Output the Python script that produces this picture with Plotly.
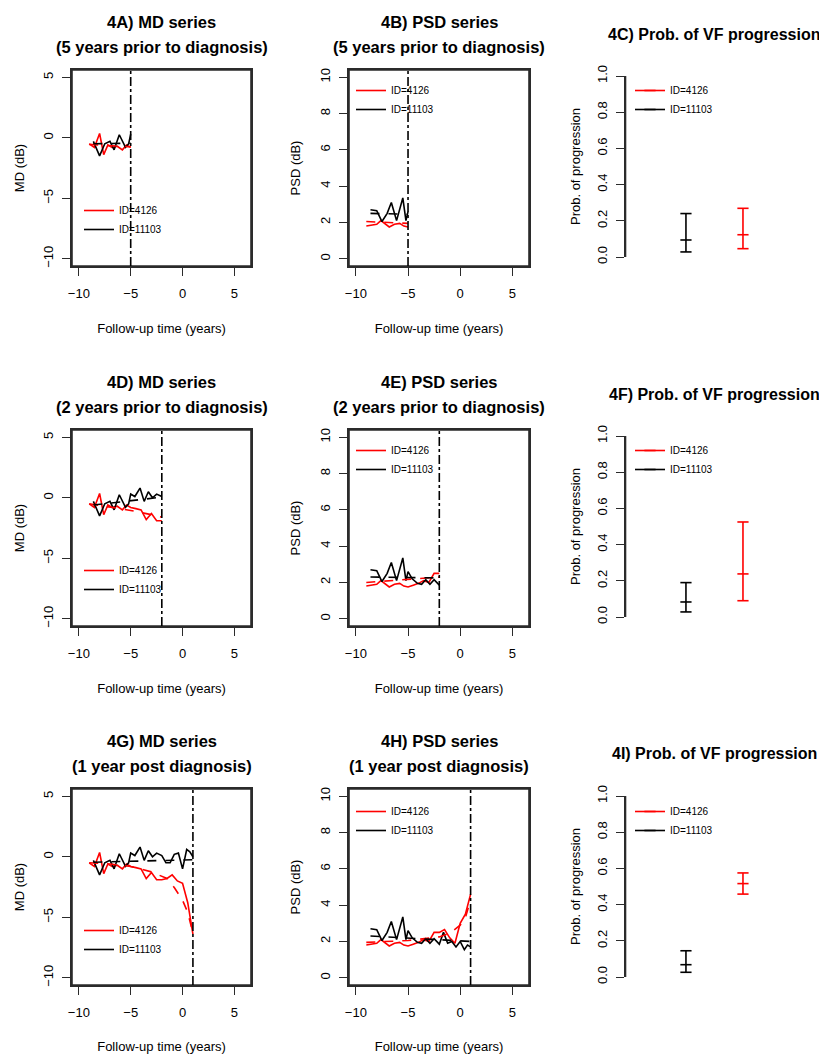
import plotly.graph_objects as go

# page is 827x1054 with an 8px body margin; the figure fills the rest
OFF = 8
W, H = 827 - OFF, 1054 - OFF
FONT = "Liberation Sans, Arial, Helvetica, sans-serif"
RED, BLACK = "#FF0000", "#000000"

# ---------------- data ----------------
id_names = ["ID=4126", "ID=11103"]
cutoffs = [-5, -2, 1]
row_subtitles = ["(5 years prior to diagnosis)", "(2 years prior to diagnosis)", "(1 year post diagnosis)"]
panel_letters = [["4A", "4B", "4C"], ["4D", "4E", "4F"], ["4G", "4H", "4I"]]

# ID=4126 (red) observed series
t_red = [-9.0, -8.5, -8.0, -7.6, -7.2, -6.8, -6.3, -5.8, -5.4, -5.0, -4.5,
         -4.0, -3.5, -3.0, -2.5, -2.0, -1.5, -1.0, -0.5, 0.0, 0.5, 1.0]
md_red = [-0.5, -0.8, 0.35, -1.4, -0.6, -0.8, -0.7, -1.0, -0.6, -0.8, -0.9,
          -1.0, -1.8, -1.3, -1.9, -1.9, -1.8, -1.5, -2.0, -2.2, -3.8, -6.4]
psd_red = [1.8, 1.85, 1.9, 2.1, 1.9, 1.75, 1.9, 1.95, 1.8, 1.75, 1.85,
           1.95, 2.1, 2.0, 2.5, 2.5, 2.65, 2.2, 1.9, 3.0, 3.5, 4.6]

# ID=11103 (black) observed series
t_blk = [-8.6, -8.0, -7.5, -7.0, -6.6, -6.1, -5.5, -5.2, -5.0, -4.6, -4.1, -3.7,
         -3.3, -2.9, -2.5, -2.0, -1.6, -1.2, -0.8, -0.4, 0.0, 0.4, 0.7, 1.0]
md_blk = [-0.3, -1.5, -0.5, -0.3, -1.0, 0.25, -0.8, -0.5, 0.3, 0.1, 0.8, -0.3,
          0.5, 0.0, 0.3, 0.1, -0.5, -0.5, 0.2, 0.3, -1.0, 0.6, 0.4, 0.0]
psd_blk = [2.7, 2.65, 2.05, 2.5, 3.1, 2.1, 3.35, 2.1, 2.6, 2.2, 1.95, 1.9,
           2.15, 1.9, 2.15, 1.85, 2.5, 1.9, 2.0, 1.7, 2.0, 1.55, 1.8, 1.7]

# fitted (dashed) curves, one per row
md_fit_red_t = [[-9.0, -5.0], [-9.0, -7.0, -5.0, -3.0, -2.0],
                [-9.0, -7.0, -5.0, -3.0, -1.5, -0.75, 0.0, 0.5, 1.0]]
md_fit_red = [[-0.55, -0.75], [-0.5, -0.75, -1.05, -1.4, -1.6],
              [-0.5, -0.6, -0.8, -1.25, -1.8, -2.6, -3.6, -4.6, -6.3]]
md_fit_blk_t = [[-8.6, -5.0], [-8.6, -2.0], [-8.6, 1.0]]
md_fit_blk = [[-0.5, -0.45], [-0.6, 0.05], [-0.45, -0.25]]
psd_fit_red_t = [[-9.0, -5.0], [-9.0, -2.0], [-9.0, -5.0, -2.0, -1.0, 0.0, 0.5, 1.0]]
psd_fit_red = [[2.05, 1.95], [2.0, 2.3], [1.95, 2.05, 2.25, 2.45, 2.9, 3.3, 4.3]]
psd_fit_blk_t = [[-8.6, -5.0], [-8.6, -2.0], [-8.6, 1.0]]
psd_fit_blk = [[2.5, 2.45], [2.3, 2.25], [2.3, 2.0]]

# probability of progression (estimate with interval), per row
prob_pos = [2, 1]            # x position: ID=4126, ID=11103
prob_mid_red = [0.123, 0.238, 0.516]
prob_lo_red = [0.046, 0.090, 0.458]
prob_hi_red = [0.269, 0.525, 0.575]
prob_mid_blk = [0.094, 0.083, 0.068]
prob_lo_blk = [0.028, 0.028, 0.026]
prob_hi_blk = [0.240, 0.190, 0.145]

md_ticks = [-10, -5, 0, 5]
psd_ticks = [0, 2, 4, 6, 8, 10]
x_ticks = [-10, -5, 0, 5]
prob_ticks = [0.0, 0.2, 0.4, 0.6, 0.8, 1.0]

# ---------------- layout geometry (page pixels) ----------------
col_px = [(72, 251), (349, 529), (625.5, 800)]
row_box = [(70, 266), (430, 626), (789, 985)]
row_prob = [(76, 257), (436, 617), (796, 977)]
ytitle_standoff = [13, 14, 11]
FRAME = "#2b2b2b"
FRAME_W = 1.6


def px_x(p):
    return (p - OFF) / W


def px_y(p):
    return 1 - (p - OFF) / H


def xdom(a, b):
    return [px_x(a), px_x(b)]


def ydom(top, bottom):
    return [px_y(bottom), px_y(top)]


def ax_ids(k):
    s = "" if k == 1 else str(k)
    return "x" + s, "y" + s, "xaxis" + s, "yaxis" + s


fig = go.Figure()
layout = dict(
    width=W, height=H, margin=dict(l=0, r=0, t=0, b=0),
    paper_bgcolor="white", plot_bgcolor="white",
    font=dict(family=FONT, size=13, color="black"),
    showlegend=True,
)
annotations = []
shapes = []

tickfont = dict(family=FONT, size=13, color="black")
titlefont = dict(family=FONT, size=13, color="black")


def series_axes(k, col, r, yrange, yticks, ytitle):
    xr_, yr_, xa, ya = ax_ids(k)
    layout[xa] = dict(
        domain=xdom(*col_px[col]), anchor=yr_, range=[-10.66, 6.6],
        tickvals=x_ticks, ticks="outside", ticklen=8, tickwidth=1.4, tickcolor=FRAME,
        showline=True, mirror=True, linecolor=FRAME, linewidth=FRAME_W,
        showgrid=False, zeroline=False, tickfont=tickfont, ticklabelstandoff=7,
        title=dict(text="Follow-up time (years)", font=titlefont, standoff=23),
        automargin=False,
    )
    layout[ya] = dict(
        domain=ydom(*row_box[r]), anchor=xr_, range=yrange,
        tickvals=yticks, ticks="outside", ticklen=8, tickwidth=1.4, tickcolor=FRAME,
        showline=True, mirror=True, linecolor=FRAME, linewidth=FRAME_W,
        showgrid=False, zeroline=False, tickfont=tickfont, tickangle=-90,
        ticklabelstandoff=4,
        title=dict(text=ytitle, font=titlefont, standoff=ytitle_standoff[col]),
        automargin=False,
    )
    # plot frame (box around the plotting region)
    shapes.append(dict(type="rect", xref=f"{xr_} domain", yref=f"{yr_} domain",
                       x0=0, x1=1, y0=0, y1=1, layer="above",
                       line=dict(color=FRAME, width=FRAME_W), fillcolor="rgba(0,0,0,0)"))


def add_legend(k, left_px, top_px):
    key = "legend" if k == 1 else f"legend{k}"
    layout[key] = dict(
        x=px_x(left_px), y=px_y(top_px), xanchor="left", yanchor="top",
        xref="paper", yref="paper", bgcolor="rgba(0,0,0,0)", borderwidth=0,
        font=dict(family=FONT, size=10, color="black"), itemwidth=30,
        traceorder="normal", tracegroupgap=0,
    )
    return key


def title_ann(text, cx, ypx, size=16.5):
    annotations.append(dict(text=f"<b>{text}</b>", x=px_x(cx), y=px_y(ypx),
                            xref="paper", yref="paper", showarrow=False, xanchor="center",
                            yanchor="middle", font=dict(family=FONT, size=size, color="black")))


for r in range(3):
    c = cutoffs[r]
    top, bottom = row_box[r]
    xr = [t for t in t_red if t <= c + 1e-9]
    xb = [t for t in t_blk if t <= c + 1e-9]

    panels = [
        (0, [-10.6, 5.6], md_ticks, "MD (dB)", md_red, md_blk, md_fit_red_t, md_fit_red,
         md_fit_blk_t, md_fit_blk, 79, [196, 556, 916][r], "MD series"),
        (1, [-0.4, 10.4], psd_ticks, "PSD (dB)", psd_red, psd_blk, psd_fit_red_t, psd_fit_red,
         psd_fit_blk_t, psd_fit_blk, 351, [76, 436, 797][r], "PSD series"),
    ]
    for (col, yrange, yticks, ytitle, yred, yblk, frt, fr, fbt, fb, lgx, lgy, name) in panels:
        k = 3 * r + col + 1
        xs, ys, _, _ = ax_ids(k)
        series_axes(k, col, r, yrange, yticks, ytitle)
        lg = add_legend(k, lgx, lgy)
        fig.add_trace(go.Scatter(x=xr, y=yred[:len(xr)], mode="lines", name=id_names[0],
                                 line=dict(color=RED, width=1.6), xaxis=xs, yaxis=ys, legend=lg))
        fig.add_trace(go.Scatter(x=xb, y=yblk[:len(xb)], mode="lines", name=id_names[1],
                                 line=dict(color=BLACK, width=1.6), xaxis=xs, yaxis=ys, legend=lg))
        fig.add_trace(go.Scatter(x=frt[r], y=fr[r], mode="lines", showlegend=False,
                                 line=dict(color=RED, width=1.6, dash="dash"), xaxis=xs, yaxis=ys))
        fig.add_trace(go.Scatter(x=fbt[r], y=fb[r], mode="lines", showlegend=False,
                                 line=dict(color=BLACK, width=1.6, dash="dash"), xaxis=xs, yaxis=ys))
        shapes.append(dict(type="line", xref=xs, yref=f"{ys} domain", x0=c, x1=c, y0=0, y1=1,
                           line=dict(color="black", width=1.6, dash="dashdot")))
        cx = sum(col_px[col]) / 2
        title_ann(f"{panel_letters[r][col]}) {name}", cx, top - 48)
        title_ann(row_subtitles[r], cx, top - 23)

    # ---- Probability panel ----
    k = 3 * r + 3
    xs, ys, xa, ya = ax_ids(k)
    layout[xa] = dict(domain=xdom(*col_px[2]), anchor=ys, range=[-0.06, 3.0],
                      visible=False, showgrid=False, zeroline=False)
    layout[ya] = dict(
        domain=ydom(*row_prob[r]), anchor=xs, range=[0, 1],
        tickvals=prob_ticks, tickformat=".1f", ticks="outside", ticklen=8, tickwidth=1.4, tickcolor=FRAME,
        showline=True, mirror=False, linecolor=FRAME, linewidth=FRAME_W,
        showgrid=False, zeroline=False, tickfont=tickfont, tickangle=-90, ticklabelstandoff=4,
        title=dict(text="Prob. of progression", font=titlefont, standoff=ytitle_standoff[2]),
        automargin=False,
    )
    # y axis line of the probability panel
    shapes.append(dict(type="line", xref=f"{xs} domain", yref=f"{ys} domain",
                       x0=0, x1=0, y0=0, y1=1, layer="above",
                       line=dict(color=FRAME, width=FRAME_W)))
    lg = add_legend(k, 630, [76, 436, 797][r])
    fig.add_trace(go.Scatter(
        x=[prob_pos[0]] * 3, y=[prob_lo_red[r], prob_mid_red[r], prob_hi_red[r]],
        mode="lines+markers", name=id_names[0], line=dict(color=RED, width=1.6),
        marker=dict(symbol="line-ew", size=8, line=dict(color=RED, width=1.6)),
        xaxis=xs, yaxis=ys, legend=lg, cliponaxis=False))
    fig.add_trace(go.Scatter(
        x=[prob_pos[1]] * 3, y=[prob_lo_blk[r], prob_mid_blk[r], prob_hi_blk[r]],
        mode="lines+markers", name=id_names[1], line=dict(color=BLACK, width=1.6),
        marker=dict(symbol="line-ew", size=8, line=dict(color=BLACK, width=1.6)),
        xaxis=xs, yaxis=ys, legend=lg, cliponaxis=False))
    title_ann(f"{panel_letters[r][2]}) Prob. of VF progression", 714, top - 36, size=16)

layout["annotations"] = annotations
layout["shapes"] = shapes
fig.update_layout(**layout)
fig.write_html("out.html")
